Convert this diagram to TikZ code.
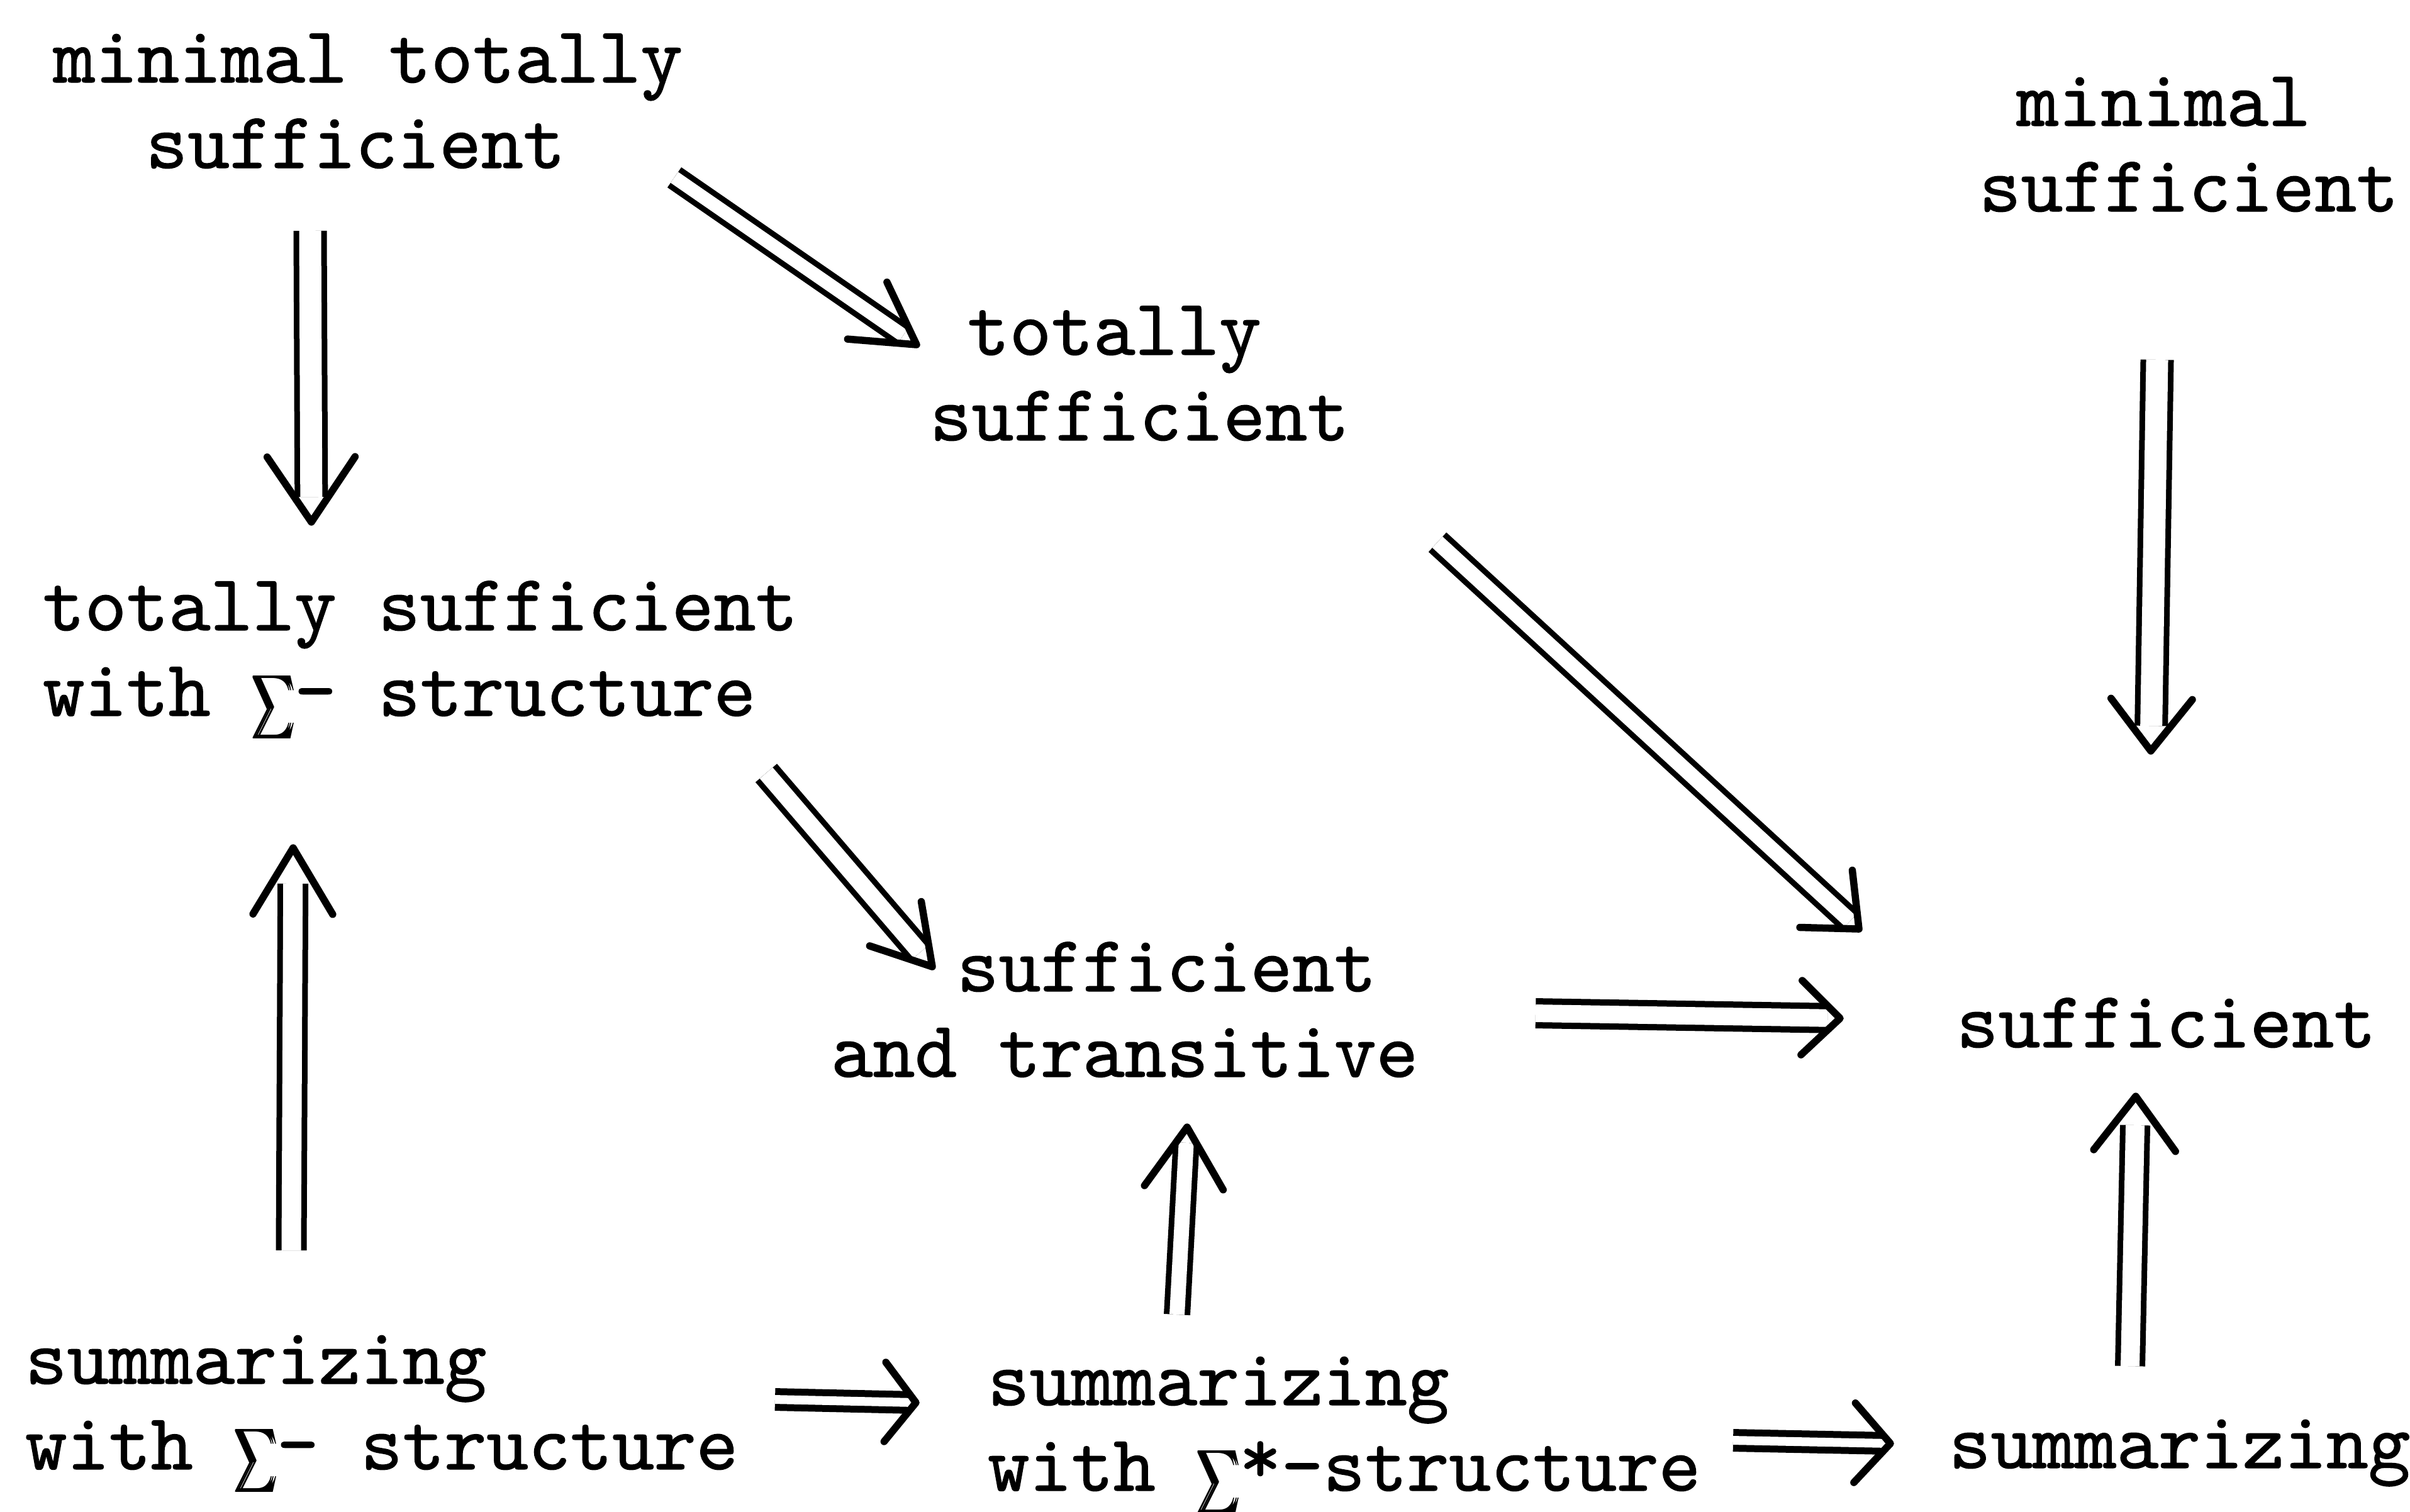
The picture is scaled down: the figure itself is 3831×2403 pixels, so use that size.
\documentclass[tikz,border=0pt]{standalone}
\usepackage{fontspec}
\usepackage{graphicx}
\usetikzlibrary{calc}
\newfontfamily\tw{lmmono10-regular.otf}[FakeBold=1]
\newlength\cw
\setlength\cw{6.67pt}
\newcommand\sumglyph{\raisebox{-1.6pt}{\scalebox{0.62}[1.0]{$\textstyle\sum$}}}
\newcommand\sig{\makebox[\cw][c]{\rlap{\sumglyph}\kern0.35pt\rlap{\sumglyph}\kern0.35pt\sumglyph}}
\newcommand\tast{\makebox[\cw][c]{\raisebox{1.2pt}{*}}}
\newcommand\darr[6]{%
  \draw[dline,#1,shorten >=#6] (#2) -- (#3);
  \draw[dhead] ($(#3)!#4!#5:(#2)$) -- (#3) -- ($(#3)!#4!-#5:(#2)$);
}
\begin{document}
\begin{tikzpicture}[x=0.1pt,y=-0.1pt,
  lbl/.style={font=\tw\fontsize{12.7pt}{13.6pt}\selectfont, inner sep=0pt, outer sep=0pt, align=left, anchor=base west},
  dline/.style={draw=black, double=white, line width=0.9pt},
  dhead/.style={draw=black, line width=1.15pt, line cap=round, line join=round}]
\fill[white] (0,0) rectangle (3831,2403);
\useasboundingbox (0,0) rectangle (3831,2403);
% nodes (anchor = baseline of the last line)
\node[lbl] (mts)   at (85,267)   {minimal totally\\\hspace*{2.2\cw}sufficient};
\node[lbl] (ms)    at (3146,336) {\hspace*{0.9\cw}minimal\\sufficient};
\node[lbl] (ts)    at (1478,700) {\hspace*{0.9\cw}totally\\sufficient};
\node[lbl] (tss)   at (68,1138)  {totally sufficient\\with \sig- structure};
\node[lbl] (st)    at (1321,1712){\hspace*{3\cw}sufficient\\and transitive};
\node[lbl] (suf)   at (3110,1665){sufficient};
\node[lbl] (sums)  at (40,2336)  {summarizing\\with \sig- structure};
\node[lbl] (sumss) at (1570,2370){summarizing\\with \sig\tast-structure};
\node[lbl] (sum)   at (3098,2334){summarizing};
% arrow end points
\coordinate (mts-tss-a) at (493,367);   \coordinate (mts-tss-b) at (495,830);
\coordinate (mts-ts-a)  at (1072,282);  \coordinate (mts-ts-b)  at (1457,548);
\coordinate (ms-suf-a)  at (3429,572);  \coordinate (ms-suf-b)  at (3419,1194);
\coordinate (ts-suf-a)  at (2285,862);  \coordinate (ts-suf-b)  at (2955,1477);
\coordinate (tss-st-a)  at (1218,1229); \coordinate (tss-st-b)  at (1482,1537);
\coordinate (st-suf-a)  at (2441,1611); \coordinate (st-suf-b)  at (2925,1619);
\coordinate (sums-tss-a) at (463,1988); \coordinate (sums-tss-b) at (466,1348);
\coordinate (sumss-st-a) at (1871,2090);\coordinate (sumss-st-b) at (1887,1792);
\coordinate (sum-suf-a) at (3386,2172); \coordinate (sum-suf-b) at (3395,1743);
\coordinate (sums-sumss-a) at (1232,2225); \coordinate (sums-sumss-b) at (1456,2230);
\coordinate (sumss-sum-a) at (2755,2290); \coordinate (sumss-sum-b) at (3005,2295);
% arrows
\darr{double distance=3.5pt}{mts-tss-a}{mts-tss-b}{12.5pt}{34}{4pt}
\darr{double distance=2.1pt}{mts-ts-a}{mts-ts-b}{11pt}{30}{2.6pt}
\darr{double distance=3.5pt}{ms-suf-a}{ms-suf-b}{10.5pt}{38}{4pt}
\darr{double distance=2.4pt}{ts-suf-a}{ts-suf-b}{9.4pt}{41}{1.9pt}
\darr{double distance=2.7pt}{tss-st-a}{tss-st-b}{10.5pt}{31}{3pt}
\darr{double distance=2.8pt,line width=1pt}{st-suf-a}{st-suf-b}{8.5pt}{44}{2pt}
\darr{double distance=3.1pt}{sums-tss-a}{sums-tss-b}{12.3pt}{31}{5.7pt}
\darr{double distance=2.4pt}{sumss-st-a}{sumss-st-b}{11.5pt}{33}{2.5pt}
\darr{double distance=3.0pt}{sum-suf-a}{sum-suf-b}{10.8pt}{37}{4.6pt}
\darr{double distance=1.4pt,line width=1.1pt}{sums-sumss-a}{sums-sumss-b}{8pt}{52}{1pt}
\darr{double distance=1.4pt,line width=1.1pt}{sumss-sum-a}{sumss-sum-b}{8.5pt}{48}{1pt}
\end{tikzpicture}
\end{document}
